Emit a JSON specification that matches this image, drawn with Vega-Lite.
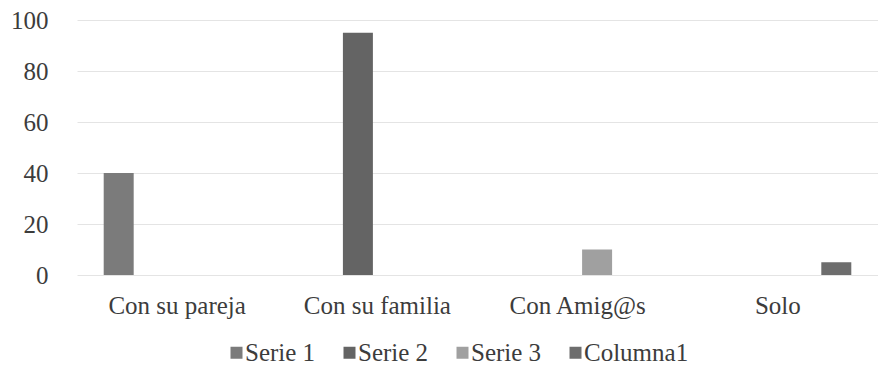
{
  "$schema": "https://vega.github.io/schema/vega-lite/v6.json",
  "width": 801,
  "height": 255,
  "autosize": "none",
  "padding": {"left": 77, "top": 20, "right": 0, "bottom": 95},
  "background": "#ffffff",
  "config": {
    "view": {"stroke": null},
    "font": "Liberation Serif",
    "axis": {
      "labelFont": "Liberation Serif",
      "labelFontSize": 25,
      "labelColor": "#3c3c3c",
      "domain": false,
      "ticks": false,
      "title": null
    },
    "legend": {
      "labelFont": "Liberation Serif",
      "labelFontSize": 25,
      "labelColor": "#3c3c3c"
    }
  },
  "data": {
    "values": [
      {"categoria": "Con su pareja", "serie": "Serie 1", "valor": 40},
      {"categoria": "Con su familia", "serie": "Serie 2", "valor": 95},
      {"categoria": "Con Amig@s", "serie": "Serie 3", "valor": 10},
      {"categoria": "Solo", "serie": "Columna1", "valor": 5}
    ]
  },
  "mark": {"type": "bar"},
  "encoding": {
    "x": {
      "field": "categoria",
      "type": "nominal",
      "sort": ["Con su pareja", "Con su familia", "Con Amig@s", "Solo"],
      "scale": {"paddingInner": 0.22, "paddingOuter": 0.11},
      "axis": {"labelAngle": 0, "labelPadding": 18, "grid": false}
    },
    "xOffset": {
      "field": "serie",
      "type": "nominal",
      "scale": {
        "domain": ["Serie 1", "Serie 2", "Serie 3", "Columna1"],
        "paddingInner": 0.23,
        "paddingOuter": 0.12
      }
    },
    "y": {
      "field": "valor",
      "type": "quantitative",
      "scale": {"domain": [0, 100], "nice": false},
      "axis": {
        "values": [0, 20, 40, 60, 80, 100],
        "grid": true,
        "gridColor": "#e4e4e4",
        "gridWidth": 1,
        "labelPadding": 29
      }
    },
    "color": {
      "field": "serie",
      "type": "nominal",
      "scale": {
        "domain": ["Serie 1", "Serie 2", "Serie 3", "Columna1"],
        "range": ["#7b7b7b", "#646464", "#a0a0a0", "#6d6d6d"]
      },
      "legend": {
        "title": null,
        "orient": "none",
        "direction": "horizontal",
        "legendX": 147,
        "legendY": 320,
        "labelFont": "Liberation Serif",
        "labelFontSize": 25,
        "labelColor": "#3c3c3c",
        "symbolType": "square",
        "symbolSize": 144,
        "symbolStrokeWidth": 0,
        "labelOffset": -4,
        "columnPadding": 21
      }
    }
  }
}
